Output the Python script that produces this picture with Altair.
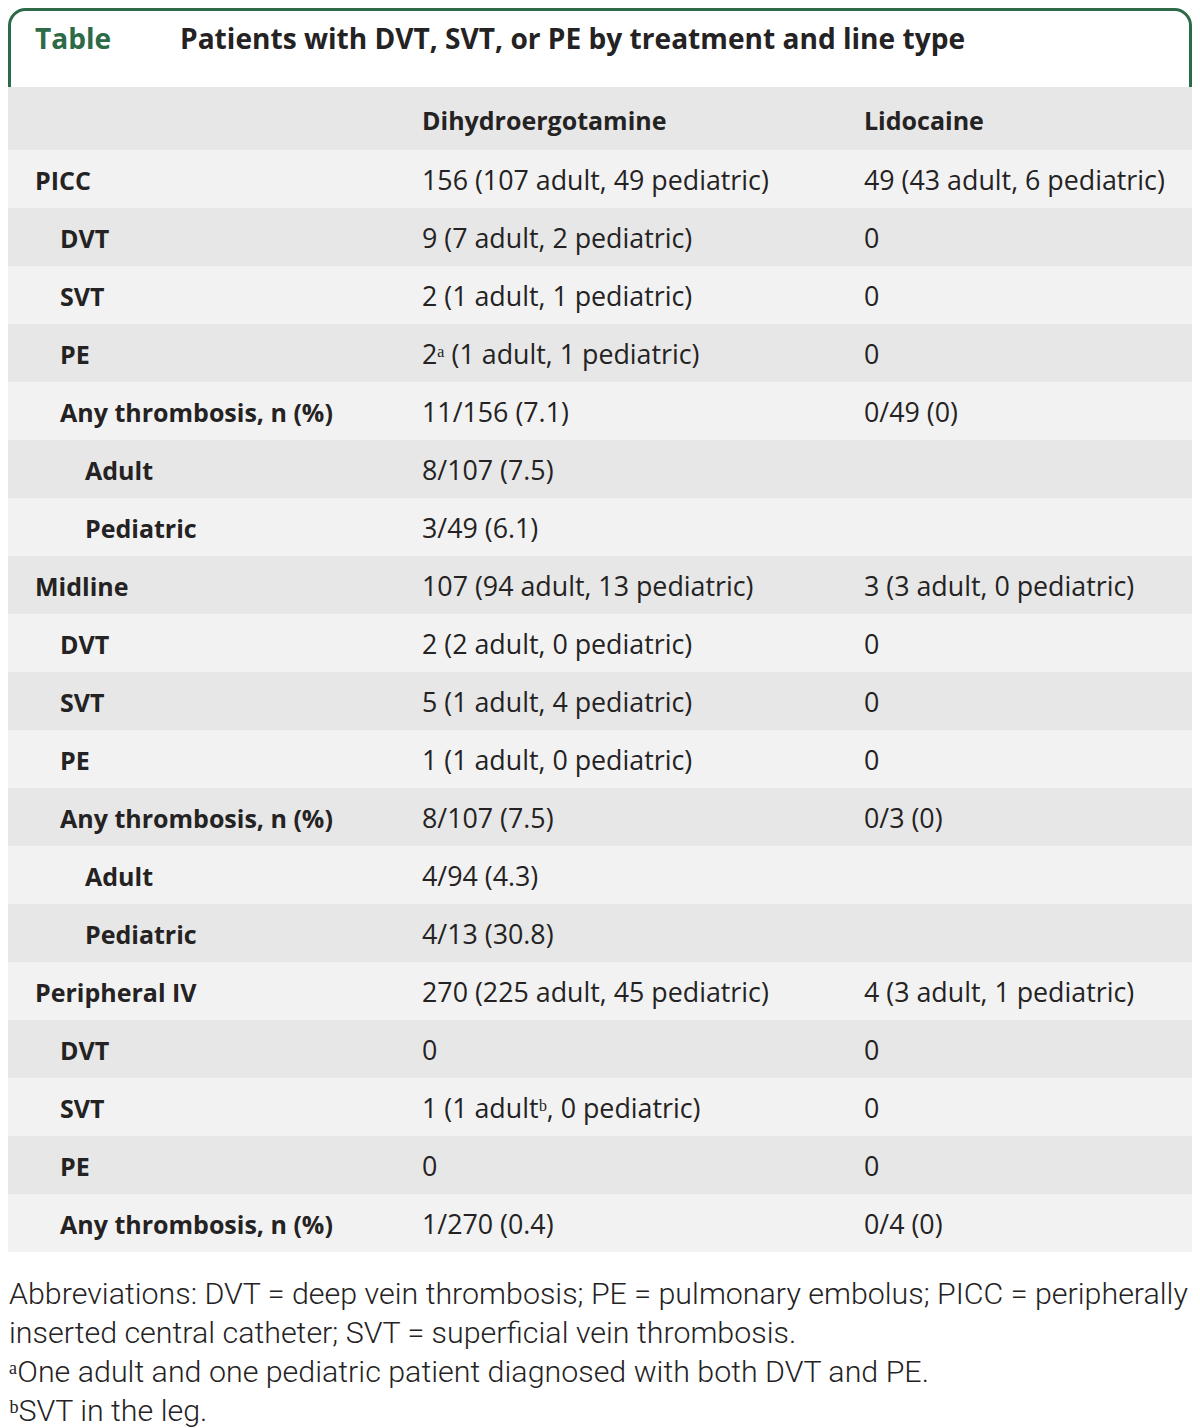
import altair as alt
import pandas as pd

# ---------------- data ----------------
title_tag = "Table"
title_text = "Patients with DVT, SVT, or PE by treatment and line type"
col_headers = ["Dihydroergotamine", "Lidocaine"]
row_labels = ["PICC", "DVT", "SVT", "PE", "Any thrombosis, n (%)", "Adult", "Pediatric",
              "Midline", "DVT", "SVT", "PE", "Any thrombosis, n (%)", "Adult", "Pediatric",
              "Peripheral IV", "DVT", "SVT", "PE", "Any thrombosis, n (%)"]
row_levels = [0, 1, 1, 1, 1, 2, 2, 0, 1, 1, 1, 1, 2, 2, 0, 1, 1, 1, 1]
dhe_values = ["156 (107 adult, 49 pediatric)", "9 (7 adult, 2 pediatric)",
              "2 (1 adult, 1 pediatric)", "2\u1d43 (1 adult, 1 pediatric)",
              "11/156 (7.1)", "8/107 (7.5)", "3/49 (6.1)",
              "107 (94 adult, 13 pediatric)", "2 (2 adult, 0 pediatric)",
              "5 (1 adult, 4 pediatric)", "1 (1 adult, 0 pediatric)",
              "8/107 (7.5)", "4/94 (4.3)", "4/13 (30.8)",
              "270 (225 adult, 45 pediatric)", "0", "1 (1 adult\u1d47, 0 pediatric)",
              "0", "1/270 (0.4)"]
lido_values = ["49 (43 adult, 6 pediatric)", "0", "0", "0", "0/49 (0)", "", "",
               "3 (3 adult, 0 pediatric)", "0", "0", "0", "0/3 (0)", "", "",
               "4 (3 adult, 1 pediatric)", "0", "0", "0", "0/4 (0)"]
footnotes = ["Abbreviations: DVT = deep vein thrombosis; PE = pulmonary embolus; PICC = peripherally",
             "inserted central catheter; SVT = superficial vein thrombosis.",
             "\u1d43One adult and one pediatric patient diagnosed with both DVT and PE.",
             "\u1d47SVT in the leg."]

# ---------------- layout ----------------
W, H = 1184, 1420
OFF = 8
GREEN = "#2d6a47"
TXT = "#242223"
DARK = "#e6e7e6"
LIGHT = "#f2f2f2"
FONT = "Open Sans"
FN_FONT = "Roboto"

ROW0_TOP = 150
ROW_H = 58
COL_X = [422, 864]
LABEL_X = 35
INDENT = 25

xs = alt.Scale(domain=[OFF, W + OFF], nice=False, zero=False)
ys = alt.Scale(domain=[OFF, H + OFF], nice=False, zero=False, reverse=True)


def X(f):
    return alt.X(f"{f}:Q", scale=xs, axis=None)


def Y(f):
    return alt.Y(f"{f}:Q", scale=ys, axis=None)


# bands
bands = [{"x0": OFF, "x1": W + OFF, "y0": 87, "y1": ROW0_TOP, "fill": DARK}]
for i in range(len(row_labels)):
    bands.append({"x0": OFF, "x1": W + OFF,
                  "y0": ROW0_TOP + ROW_H * i, "y1": ROW0_TOP + ROW_H * (i + 1),
                  "fill": LIGHT if i % 2 == 0 else DARK})
bands_df = pd.DataFrame(bands)

box_df = pd.DataFrame([{"x0": OFF + 1.5, "x1": W + OFF - 1.5, "y0": OFF + 1.5, "y1": 120}])

box = alt.Chart(box_df).mark_rect(
    cornerRadiusTopLeft=16, cornerRadiusTopRight=16,
    stroke=GREEN, strokeWidth=3, fill="white"
).encode(x=X("x0"), x2="x1", y=Y("y0"), y2="y1")

band_layer = alt.Chart(bands_df).mark_rect().encode(
    x=X("x0"), x2="x1", y=Y("y0"), y2="y1",
    fill=alt.Fill("fill:N", scale=None)
)

# title
title_df = pd.DataFrame([
    {"x": 35, "y": 41, "t": title_tag, "c": GREEN},
    {"x": 180, "y": 41, "t": title_text, "c": TXT},
])
title_layer = alt.Chart(title_df).mark_text(
    align="left", baseline="middle", font=FONT, fontSize=28.1, fontWeight="bold"
).encode(x=X("x"), y=Y("y"), text="t:N", color=alt.Color("c:N", scale=None))

# header + labels (bold)
bold_rows = [{"x": COL_X[j], "y": 122, "t": h} for j, h in enumerate(col_headers)]
for i, (lab, lev) in enumerate(zip(row_labels, row_levels)):
    bold_rows.append({"x": LABEL_X + INDENT * lev,
                      "y": ROW0_TOP + ROW_H * i + ROW_H / 2 + 3, "t": lab})
bold_df = pd.DataFrame(bold_rows)
bold_layer = alt.Chart(bold_df).mark_text(
    align="left", baseline="middle", font=FONT, fontSize=25, fontWeight="bold", color=TXT
).encode(x=X("x"), y=Y("y"), text="t:N")

# values (regular)
val_rows = []
for i in range(len(row_labels)):
    for j, vals in enumerate([dhe_values, lido_values]):
        if vals[i]:
            val_rows.append({"x": COL_X[j],
                             "y": ROW0_TOP + ROW_H * i + ROW_H / 2 + 3, "t": vals[i]})
val_df = pd.DataFrame(val_rows)
val_layer = alt.Chart(val_df).mark_text(
    align="left", baseline="middle", font=FONT, fontSize=26.8, fontWeight="normal", color=TXT
).encode(x=X("x"), y=Y("y"), text="t:N")

# footnotes
fn_df = pd.DataFrame([{"x": OFF + 1, "y": 1295 + 39 * k, "t": t} for k, t in enumerate(footnotes)])
fn_layer = alt.Chart(fn_df).mark_text(
    align="left", baseline="middle", font=FN_FONT, fontSize=30.4, fontWeight=300, color=TXT
).encode(x=X("x"), y=Y("y"), text="t:N")

chart = alt.layer(box, band_layer, title_layer, bold_layer, val_layer, fn_layer).properties(
    width=W, height=H, padding=0, autosize=alt.AutoSizeParams(type="none"),
    background="white"
).configure_view(stroke=None)

chart.save("out.html", embed_options={"renderer": "svg", "actions": False})
